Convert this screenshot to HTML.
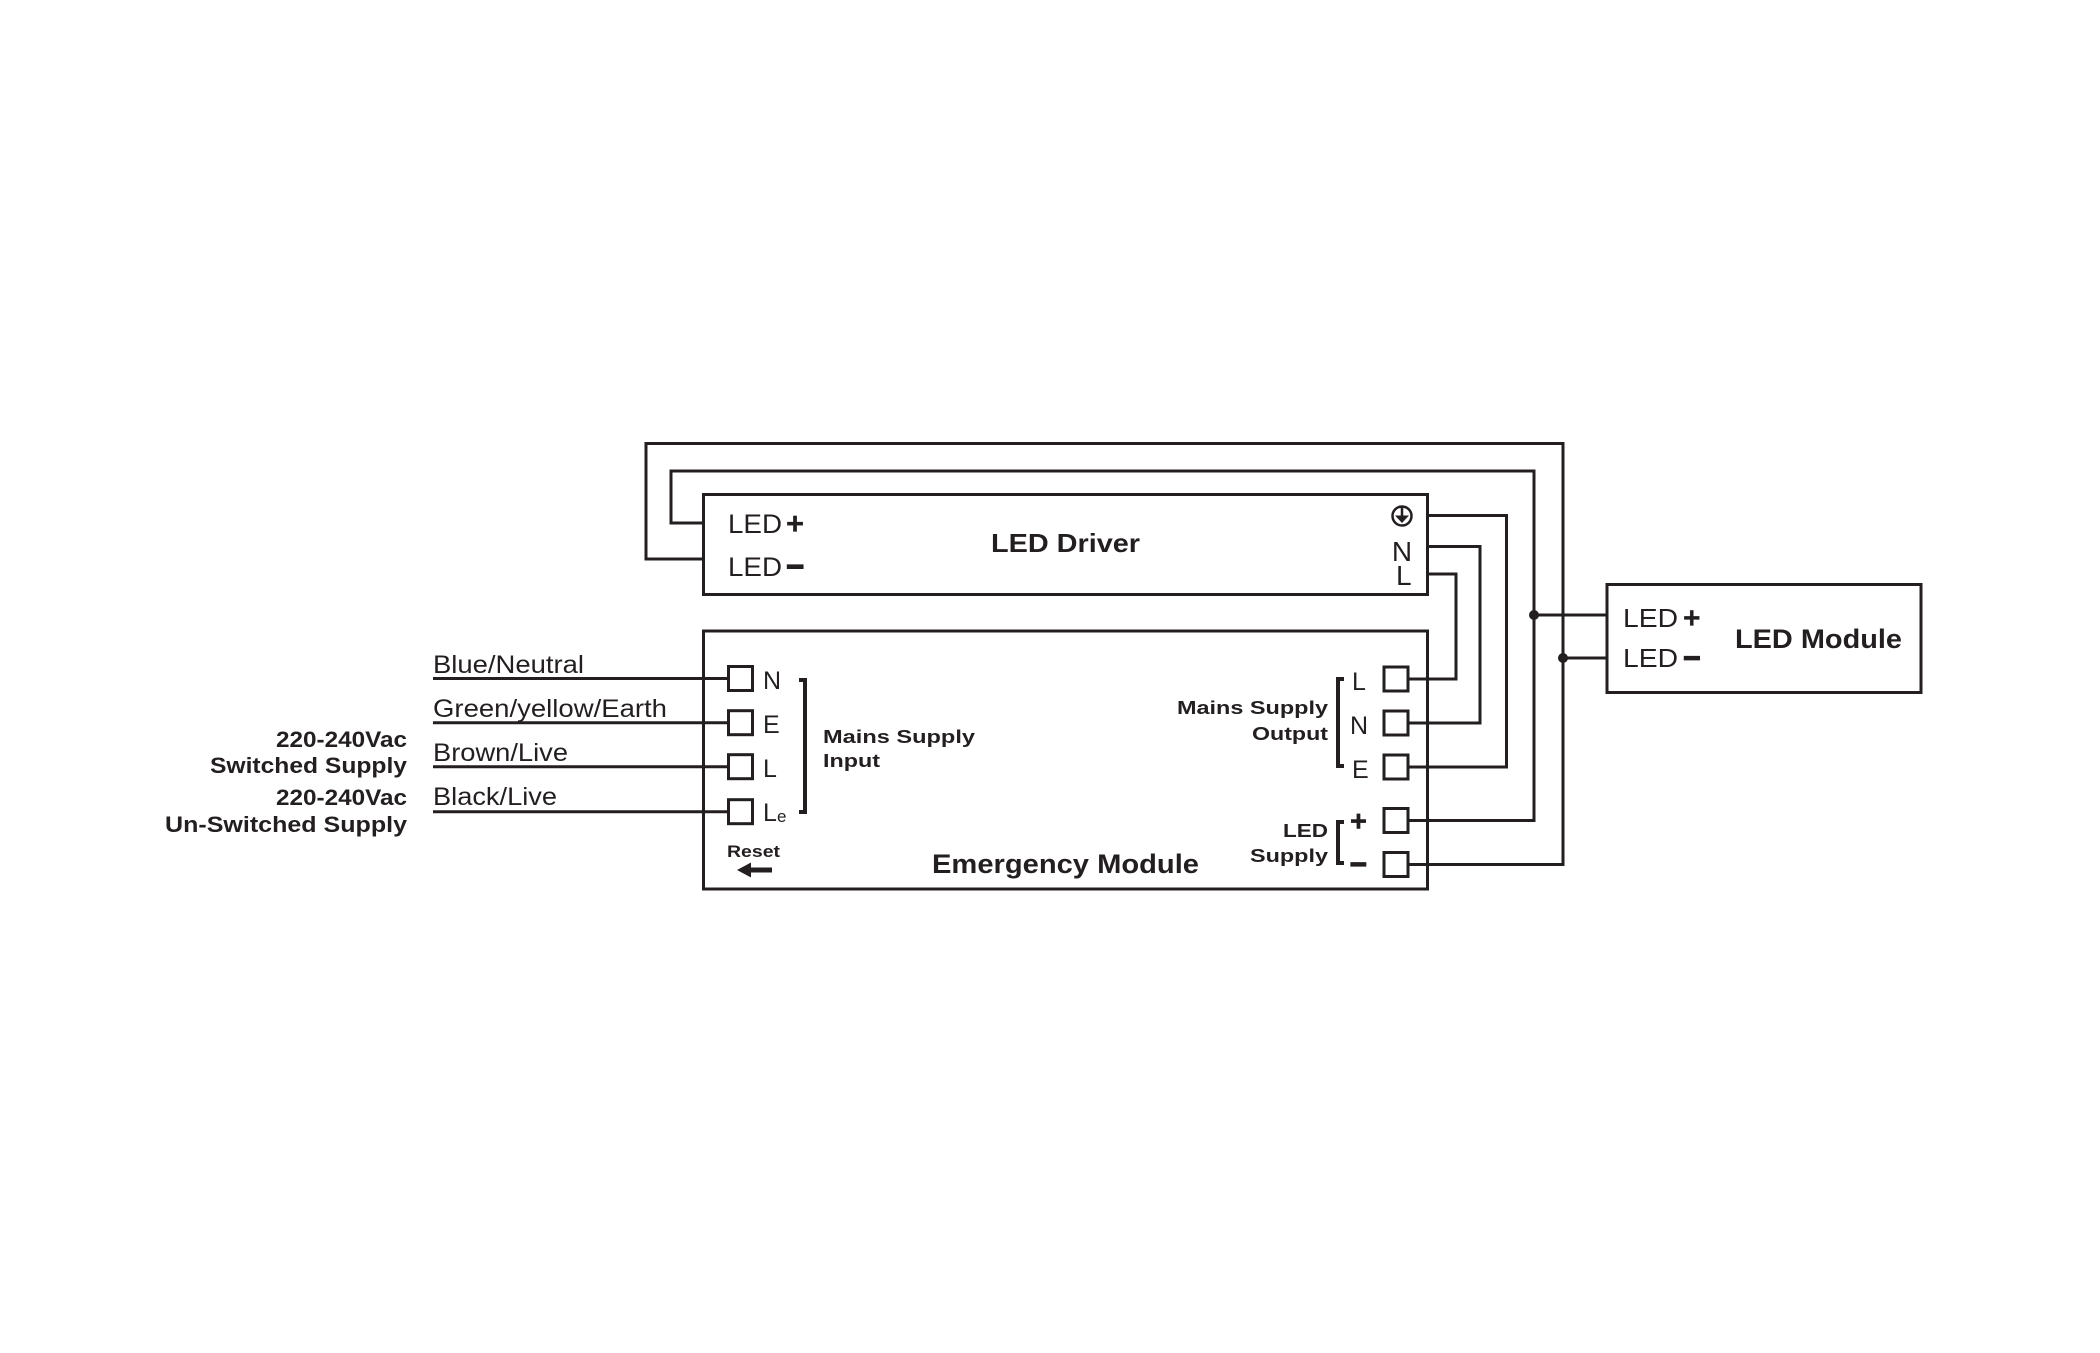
<!DOCTYPE html>
<html>
<head>
<meta charset="utf-8">
<style>
  html, body { margin: 0; padding: 0; background: #ffffff; }
  body { width: 2100px; height: 1353px; overflow: hidden; }
  svg { display: block; }
  text { font-family: "Liberation Sans", Arial, sans-serif; fill: #231f20; }
  .b { font-weight: bold; }
</style>
</head>
<body>
<svg width="2100" height="1353" viewBox="0 0 2100 1353" xmlns="http://www.w3.org/2000/svg">
  <rect x="0" y="0" width="2100" height="1353" fill="#ffffff"/>

  <g fill="none" stroke="#231f20" stroke-width="3" stroke-linejoin="miter">
    <!-- boxes -->
    <rect x="703.5" y="494.5" width="724" height="100"/>
    <rect x="703.5" y="631" width="724" height="258"/>
    <rect x="1607" y="584.5" width="314" height="108"/>

    <!-- loops from driver LED+/LED- -->
    <path d="M703,559 H646 V443.5 H1563 V864.5 H1409"/>
    <path d="M703,523 H671 V471 H1534 V820.5 H1409"/>

    <!-- driver mains to emergency mains output -->
    <path d="M1428,515.5 H1506.5 V767 H1409"/>
    <path d="M1428,546.5 H1480 V723 H1409"/>
    <path d="M1428,574 H1456 V679 H1409"/>

    <!-- to LED module -->
    <path d="M1534,615 H1607"/>
    <path d="M1563,658 H1607"/>

    <!-- left supply wires -->
    <path d="M433,678.5 H728"/>
    <path d="M433,722.7 H728"/>
    <path d="M433,766.7 H728"/>
    <path d="M433,811.7 H728"/>

    <!-- left terminal squares -->
    <rect x="728.5" y="666.5" width="24" height="24"/>
    <rect x="728.5" y="710.7" width="24" height="24"/>
    <rect x="728.5" y="754.7" width="24" height="24"/>
    <rect x="728.5" y="799.7" width="24" height="24"/>

    <!-- right terminal squares -->
    <rect x="1384" y="667" width="24" height="24"/>
    <rect x="1384" y="711" width="24" height="24"/>
    <rect x="1384" y="755" width="24" height="24"/>
    <rect x="1384" y="808.5" width="24" height="24"/>
    <rect x="1384" y="852.5" width="24" height="24"/>
  </g>

  <!-- brackets -->
  <g fill="none" stroke="#231f20" stroke-width="4">
    <path d="M799,680 H805 V812 H799"/>
    <path d="M1344,679 H1338 V766 H1344"/>
    <path d="M1344,822 H1338 V863 H1344"/>
  </g>

  <!-- junction dots -->
  <circle cx="1534" cy="615" r="5" fill="#231f20"/>
  <circle cx="1563" cy="658" r="5" fill="#231f20"/>

  <!-- ground symbol -->
  <circle cx="1402" cy="516" r="9.5" fill="none" stroke="#231f20" stroke-width="2.5"/>
  <line x1="1402" y1="507" x2="1402" y2="516" stroke="#231f20" stroke-width="2.5"/>
  <path d="M1395,515.5 L1409,515.5 L1402,523 Z" fill="#231f20"/>

  <!-- reset arrow -->
  <rect x="748" y="867.5" width="24" height="5" fill="#231f20"/>
  <path d="M737,870 L751,862.5 L751,877.5 Z" fill="#231f20"/>

  <!-- LED Driver texts -->
  <text x="728" y="533" font-size="27" textLength="54" lengthAdjust="spacingAndGlyphs">LED</text>
  <text x="786" y="534" font-size="31" class="b" stroke="#231f20" stroke-width="0.3">+</text>
  <text x="728" y="576" font-size="27" textLength="54" lengthAdjust="spacingAndGlyphs">LED</text>
  <text x="786" y="577" font-size="31" class="b" stroke="#231f20" stroke-width="1.2">−</text>
  <text x="991" y="552" font-size="26" class="b" textLength="149" lengthAdjust="spacingAndGlyphs">LED Driver</text>
  <text x="1402" y="561" font-size="28" text-anchor="middle">N</text>
  <text x="1396" y="585" font-size="28">L</text>

  <!-- left supply labels -->
  <text x="433" y="673" font-size="25" textLength="151" lengthAdjust="spacingAndGlyphs">Blue/Neutral</text>
  <text x="433" y="717" font-size="25" textLength="234" lengthAdjust="spacingAndGlyphs">Green/yellow/Earth</text>
  <text x="433" y="761" font-size="25" textLength="135" lengthAdjust="spacingAndGlyphs">Brown/Live</text>
  <text x="433" y="805" font-size="25" textLength="124" lengthAdjust="spacingAndGlyphs">Black/Live</text>

  <text x="276" y="747" font-size="22" class="b" textLength="131" lengthAdjust="spacingAndGlyphs">220-240Vac</text>
  <text x="210" y="773" font-size="22" class="b" textLength="197" lengthAdjust="spacingAndGlyphs">Switched Supply</text>
  <text x="276" y="805" font-size="22" class="b" textLength="131" lengthAdjust="spacingAndGlyphs">220-240Vac</text>
  <text x="165" y="832" font-size="22" class="b" textLength="242" lengthAdjust="spacingAndGlyphs">Un-Switched Supply</text>

  <!-- emergency module left terminal labels -->
  <text x="763" y="689" font-size="25">N</text>
  <text x="763" y="733" font-size="25">E</text>
  <text x="763" y="777" font-size="25">L</text>
  <text x="763" y="821" font-size="25">L</text>
  <text x="777" y="822" font-size="17" fill="#1f2a55">e</text>

  <text x="823" y="743" font-size="18" class="b" textLength="152" lengthAdjust="spacingAndGlyphs">Mains Supply</text>
  <text x="823" y="767" font-size="18" class="b" textLength="57" lengthAdjust="spacingAndGlyphs">Input</text>

  <text x="727" y="857" font-size="17" class="b" textLength="53" lengthAdjust="spacingAndGlyphs">Reset</text>

  <text x="932" y="873" font-size="27" class="b" textLength="267" lengthAdjust="spacingAndGlyphs">Emergency Module</text>

  <!-- emergency module right labels -->
  <text x="1177" y="714" font-size="18" class="b" textLength="151" lengthAdjust="spacingAndGlyphs">Mains Supply</text>
  <text x="1252" y="740" font-size="18" class="b" textLength="76" lengthAdjust="spacingAndGlyphs">Output</text>
  <text x="1283" y="837" font-size="18" class="b" textLength="45" lengthAdjust="spacingAndGlyphs">LED</text>
  <text x="1250" y="862" font-size="18" class="b" textLength="78" lengthAdjust="spacingAndGlyphs">Supply</text>

  <text x="1352" y="690" font-size="25">L</text>
  <text x="1350" y="734" font-size="25">N</text>
  <text x="1352" y="778" font-size="25">E</text>
  <text x="1350" y="831" font-size="29" class="b" stroke="#231f20" stroke-width="0.5">+</text>
  <text x="1350" y="874" font-size="29" class="b" stroke="#231f20" stroke-width="1.4">−</text>

  <!-- LED module texts -->
  <text x="1623" y="627" font-size="26" textLength="55" lengthAdjust="spacingAndGlyphs">LED</text>
  <text x="1683" y="628" font-size="30" class="b" stroke="#231f20" stroke-width="0.3">+</text>
  <text x="1623" y="667" font-size="26" textLength="55" lengthAdjust="spacingAndGlyphs">LED</text>
  <text x="1683" y="668" font-size="30" class="b" stroke="#231f20" stroke-width="1.2">−</text>
  <text x="1735" y="648" font-size="27" class="b" textLength="167" lengthAdjust="spacingAndGlyphs">LED Module</text>
</svg>
</body>
</html>
